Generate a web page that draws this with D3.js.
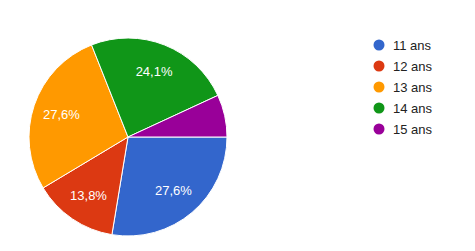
<!DOCTYPE html>
<html><head><meta charset="utf-8">
<script src="https://cdn.jsdelivr.net/npm/d3@7"></script>
<style>body{margin:0;background:#fff}svg{display:block}</style>
</head><body><svg id="c" width="475" height="251"></svg>
<script>
const categories = ["11 ans","12 ans","13 ans","14 ans","15 ans"];
const values = [27.6, 13.8, 27.6, 24.1, 6.9];
const labels = ["27,6%","13,8%","27,6%","24,1%",""];
const colors = ["#3366cc","#dc3912","#ff9900","#109618","#990099"];

const svg = d3.select("#c");
const cx = 128, cy = 137, r = 99;
const pie = d3.pie().sort(null).value(d=>d.v).startAngle(Math.PI/2).endAngle(Math.PI/2 + 2*Math.PI);
const data = pie(categories.map((c,i)=>({c, v: values[i], l: labels[i], col: colors[i]})));
const arc = d3.arc().innerRadius(0).outerRadius(r);
const labelArc = d3.arc().innerRadius(r*0.71).outerRadius(r*0.71);
const g = svg.append("g").attr("transform", `translate(${cx},${cy})`);
g.selectAll("path").data(data).join("path")
  .attr("d", arc).attr("fill", d=>d.data.col)
  .attr("stroke","#fff").attr("stroke-width",1);
g.selectAll("text").data(data).join("text")
  .attr("transform", d=>`translate(${labelArc.centroid(d)})`)
  .attr("text-anchor","middle").attr("dy","0.35em")
  .attr("fill","#fff").attr("font-family","Arial, 'Liberation Sans', sans-serif").attr("font-size",13)
  .text(d=>d.data.l);

const y = d3.scalePoint().domain(categories).range([45,129]);
const lg = svg.append("g");
const items = lg.selectAll("g").data(categories).join("g")
  .attr("transform", d=>`translate(379,${y(d)})`);
items.append("circle").attr("r",5.5).attr("fill",(d,i)=>colors[i]);
items.append("text").attr("x",14).attr("dy","0.35em")
  .attr("font-family","Arial, 'Liberation Sans', sans-serif").attr("font-size",13).attr("fill","#222")
  .text(d=>d);
</script></body></html>
